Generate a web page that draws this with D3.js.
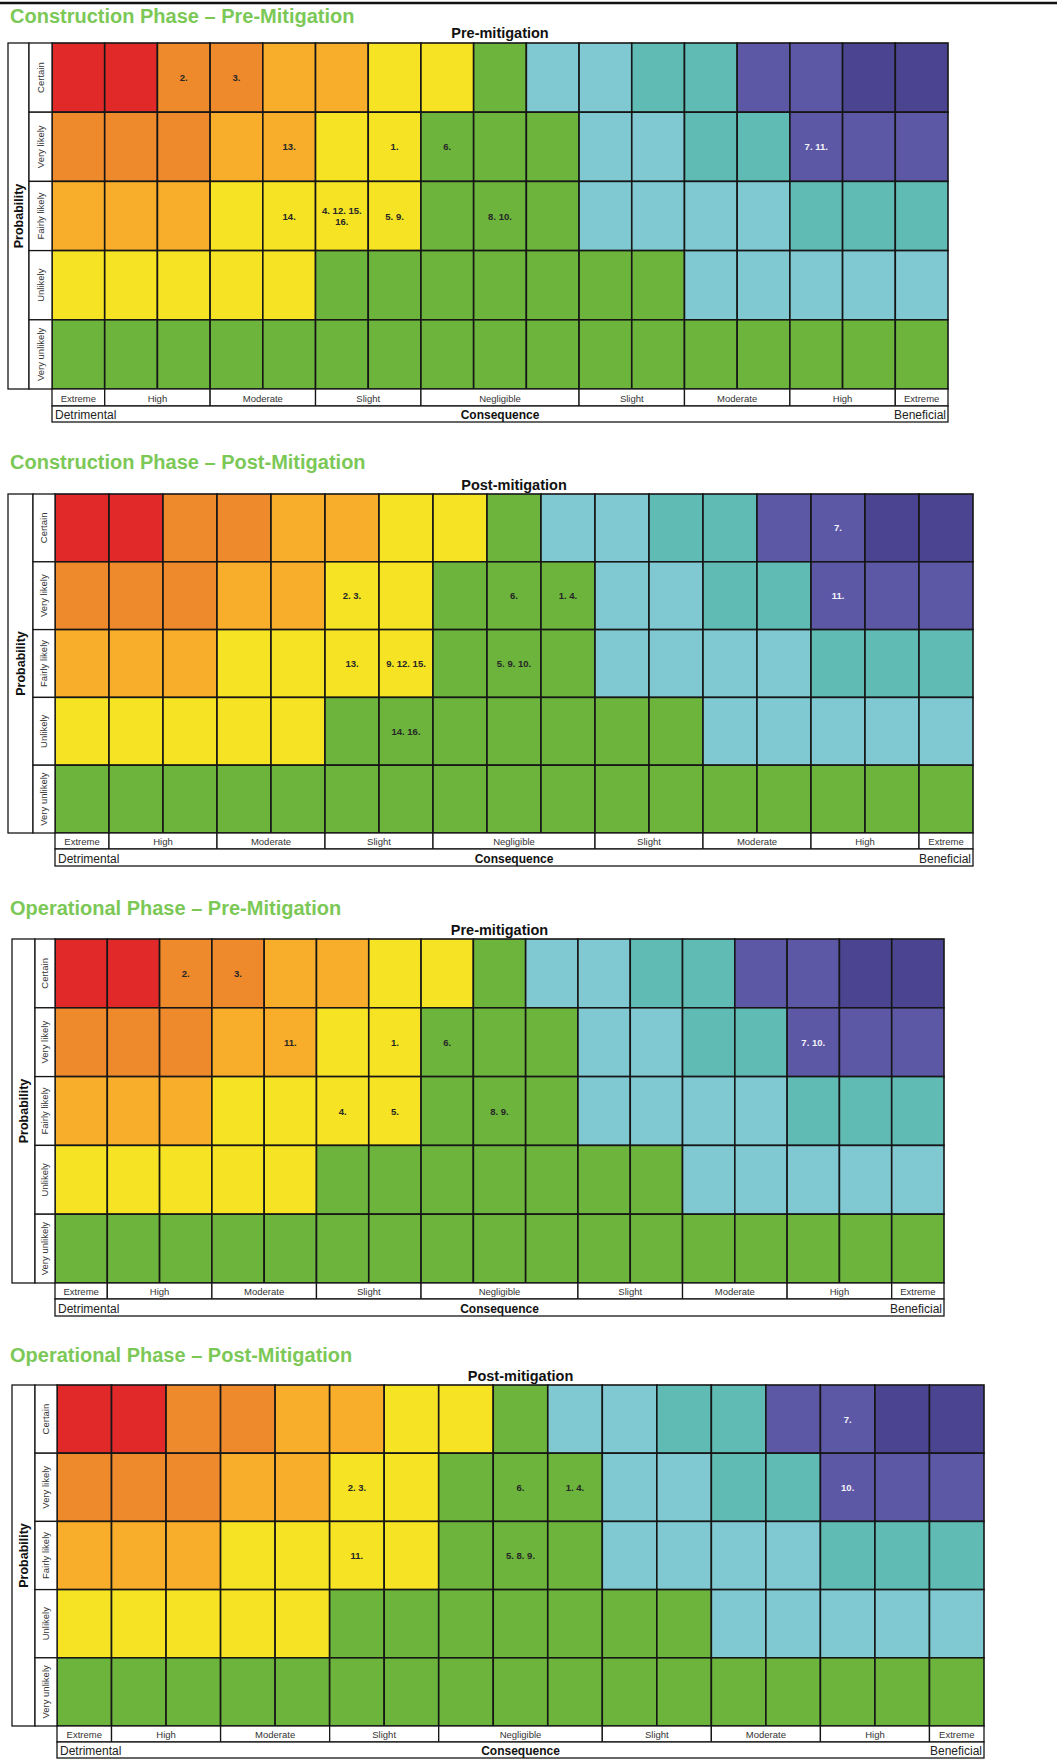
<!DOCTYPE html>
<html>
<head>
<meta charset="utf-8">
<script src="https://cdn.jsdelivr.net/npm/d3@7"></script>
<style>
  body { margin: 0; background: #fff; }
  svg { display: block; font-family: "Liberation Sans", Arial, sans-serif; }
</style>
</head>
<body>
<div id="chart"></div>
<script>
// Probability levels (rows, top to bottom)
const probLevels = ["Certain", "Very likely", "Fairly likely", "Unlikely", "Very unlikely"];

// Consequence bands along the bottom and how many columns each spans
const bandLabels = ["Extreme", "High", "Moderate", "Slight", "Negligible", "Slight", "Moderate", "High", "Extreme"];
const bandSpans = [1, 2, 2, 2, 3, 2, 2, 2, 1];

// Risk class of every cell, one string per probability row
// R red, O orange, L light orange, Y yellow, G green, B light blue, T teal, P purple, D dark purple
const riskGrid = [
    "RROOLLYYGBBTTPPDD",
    "OOOLLYYGGGBBTTPPP",
    "LLLYYYYGGGBBBBTTT",
    "YYYYYGGGGGGGBBBBB",
    "GGGGGGGGGGGGGGGGG"
];

// Impact numbers placed in the matrix: [probability row, column (1-17), text]
const constructionPre = [
    ["Certain", 3, "2."], ["Certain", 4, "3."],
    ["Very likely", 5, "13."], ["Very likely", 7, "1."], ["Very likely", 8, "6."], ["Very likely", 15, "7. 11."],
    ["Fairly likely", 5, "14."], ["Fairly likely", 6, "4. 12. 15.\n16."], ["Fairly likely", 7, "5. 9."], ["Fairly likely", 9, "8. 10."]
];
const constructionPost = [
    ["Certain", 15, "7."],
    ["Very likely", 6, "2. 3."], ["Very likely", 9, "6."], ["Very likely", 10, "1. 4."], ["Very likely", 15, "11."],
    ["Fairly likely", 6, "13."], ["Fairly likely", 7, "9. 12. 15."], ["Fairly likely", 9, "5. 9. 10."],
    ["Unlikely", 7, "14. 16."]
];
const operationalPre = [
    ["Certain", 3, "2."], ["Certain", 4, "3."],
    ["Very likely", 5, "11."], ["Very likely", 7, "1."], ["Very likely", 8, "6."], ["Very likely", 15, "7. 10."],
    ["Fairly likely", 6, "4."], ["Fairly likely", 7, "5."], ["Fairly likely", 9, "8. 9."]
];
const operationalPost = [
    ["Certain", 15, "7."],
    ["Very likely", 6, "2. 3."], ["Very likely", 9, "6."], ["Very likely", 10, "1. 4."], ["Very likely", 15, "10."],
    ["Fairly likely", 6, "11."], ["Fairly likely", 9, "5. 8. 9."]
];

const panelTitles = [
    "Construction Phase \u2013 Pre-Mitigation",
    "Construction Phase \u2013 Post-Mitigation",
    "Operational Phase \u2013 Pre-Mitigation",
    "Operational Phase \u2013 Post-Mitigation"
];
const panelHeadings = ["Pre-mitigation", "Post-mitigation", "Pre-mitigation", "Post-mitigation"];
const panelItems = [constructionPre, constructionPost, operationalPre, operationalPost];

// Layout of each panel (pixels)
const layouts = [
    { titleY: 23,   headY: 38,   left: 8,  div: 29, x0: 52, x1: 948, y0: 43,   y1: 389,  lab: 406,  det: 422 },
    { titleY: 469,  headY: 490,  left: 8,  div: 33, x0: 55, x1: 973, y0: 494,  y1: 833,  lab: 849,  det: 866 },
    { titleY: 915,  headY: 935,  left: 12, div: 35, x0: 55, x1: 944, y0: 939,  y1: 1283, lab: 1299, det: 1316 },
    { titleY: 1362, headY: 1381, left: 12, div: 35, x0: 57, x1: 984, y0: 1385, y1: 1726, lab: 1742, det: 1758 }
];

const colour = d3.scaleOrdinal()
    .domain(["R", "O", "L", "Y", "G", "B", "T", "P", "D"])
    .range(["#e1292a", "#ee8a2c", "#f8ae2a", "#f6e424", "#6cb43c", "#80c9d3", "#5fbbb4", "#5d58a6", "#4b4591"]);

const W = 1057, H = 1760;
const svg = d3.select("#chart").append("svg")
    .attr("width", W)
    .attr("height", H);

// rule across the top of the page
svg.append("line")
    .attr("x1", 0).attr("x2", W)
    .attr("y1", 3).attr("y2", 3)
    .attr("stroke", "#111").attr("stroke-width", 2.5);

const nCols = riskGrid[0].length;

panelTitles.forEach((title, i) => {
    const L = layouts[i];
    const g = svg.append("g");

    const x = d3.scaleBand().domain(d3.range(1, nCols + 1)).range([L.x0, L.x1]);
    const y = d3.scaleBand().domain(probLevels).range([L.y0, L.y1]);

    g.append("text")
        .attr("x", 10).attr("y", L.titleY)
        .attr("font-size", 20).attr("font-weight", "bold")
        .attr("fill", "#7cc857")
        .text(title);

    g.append("text")
        .attr("x", (L.x0 + L.x1) / 2).attr("y", L.headY)
        .attr("text-anchor", "middle")
        .attr("font-size", 14.5).attr("font-weight", "bold")
        .attr("fill", "#111")
        .text(panelHeadings[i]);

    // matrix cells
    const cells = [];
    probLevels.forEach((p, r) => {
        riskGrid[r].split("").forEach((code, c) => cells.push({ prob: p, col: c + 1, code: code }));
    });
    g.selectAll("rect.cell")
        .data(cells)
        .join("rect")
        .attr("class", "cell")
        .attr("x", d => x(d.col))
        .attr("y", d => y(d.prob))
        .attr("width", x.bandwidth())
        .attr("height", y.bandwidth())
        .attr("fill", d => colour(d.code))
        .attr("stroke", "#161616")
        .attr("stroke-width", 1.6);

    // probability box on the left
    g.append("rect")
        .attr("x", L.left).attr("y", L.y0)
        .attr("width", L.div - L.left).attr("height", L.y1 - L.y0)
        .attr("fill", "#fff").attr("stroke", "#161616").attr("stroke-width", 1.3);
    g.selectAll("rect.rowlab")
        .data(probLevels)
        .join("rect")
        .attr("class", "rowlab")
        .attr("x", L.div).attr("y", d => y(d))
        .attr("width", L.x0 - L.div).attr("height", y.bandwidth())
        .attr("fill", "#fff").attr("stroke", "#161616").attr("stroke-width", 1.3);
    g.selectAll("text.rowlab")
        .data(probLevels)
        .join("text")
        .attr("class", "rowlab")
        .attr("transform", d => `translate(${(L.div + L.x0) / 2 + 3},${y(d) + y.bandwidth() / 2}) rotate(-90)`)
        .attr("text-anchor", "middle")
        .attr("font-size", 9.5).attr("fill", "#333")
        .text(d => d);
    g.append("text")
        .attr("transform", `translate(${(L.left + L.div) / 2 + 4.5},${(L.y0 + L.y1) / 2}) rotate(-90)`)
        .attr("text-anchor", "middle")
        .attr("font-size", 12.5).attr("font-weight", "bold").attr("fill", "#111")
        .text("Probability");

    // consequence bands
    let start = 1;
    const bands = bandLabels.map((lab, k) => {
        const b = { label: lab, c0: start, c1: start + bandSpans[k] - 1 };
        start += bandSpans[k];
        return b;
    });
    g.selectAll("rect.band")
        .data(bands)
        .join("rect")
        .attr("class", "band")
        .attr("x", d => x(d.c0)).attr("y", L.y1)
        .attr("width", d => x(d.c1) + x.bandwidth() - x(d.c0)).attr("height", L.lab - L.y1)
        .attr("fill", "#fff").attr("stroke", "#161616").attr("stroke-width", 1.3);
    g.selectAll("text.band")
        .data(bands)
        .join("text")
        .attr("class", "band")
        .attr("x", d => (x(d.c0) + x(d.c1) + x.bandwidth()) / 2)
        .attr("y", L.lab - 4.5)
        .attr("text-anchor", "middle")
        .attr("font-size", 9.5).attr("fill", "#333")
        .text(d => d.label);

    g.append("rect")
        .attr("x", L.x0).attr("y", L.lab)
        .attr("width", L.x1 - L.x0).attr("height", L.det - L.lab)
        .attr("fill", "#fff").attr("stroke", "#161616").attr("stroke-width", 1.3);
    g.append("text")
        .attr("x", L.x0 + 3).attr("y", L.det - 3.5)
        .attr("font-size", 12).attr("fill", "#222")
        .text("Detrimental");
    g.append("text")
        .attr("x", (L.x0 + L.x1) / 2).attr("y", L.det - 3.5)
        .attr("text-anchor", "middle")
        .attr("font-size", 12).attr("font-weight", "bold").attr("fill", "#111")
        .text("Consequence");
    g.append("text")
        .attr("x", L.x1 - 2).attr("y", L.det - 3.5)
        .attr("text-anchor", "end")
        .attr("font-size", 12).attr("fill", "#222")
        .text("Beneficial");

    // impact numbers
    const items = panelItems[i].map(([p, c, t]) => ({ prob: p, col: c, lines: t.split("\n"), code: riskGrid[probLevels.indexOf(p)][c - 1] }));
    const lab = g.selectAll("text.item")
        .data(items)
        .join("text")
        .attr("class", "item")
        .attr("x", d => x(d.col) + x.bandwidth() / 2)
        .attr("y", d => y(d.prob) + y.bandwidth() / 2 + 3.5 - (d.lines.length - 1) * 5.5)
        .attr("text-anchor", "middle")
        .attr("font-size", 9.5).attr("font-weight", "bold")
        .attr("fill", d => (d.code === "P" || d.code === "D") ? "#f4f4f8" : "#262626");
    lab.selectAll("tspan")
        .data(d => d.lines.map(s => ({ s: s, x: x(d.col) + x.bandwidth() / 2 })))
        .join("tspan")
        .attr("x", d => d.x)
        .attr("dy", (d, k) => k === 0 ? 0 : 11)
        .text(d => d.s);
});
</script>
</body>
</html>
